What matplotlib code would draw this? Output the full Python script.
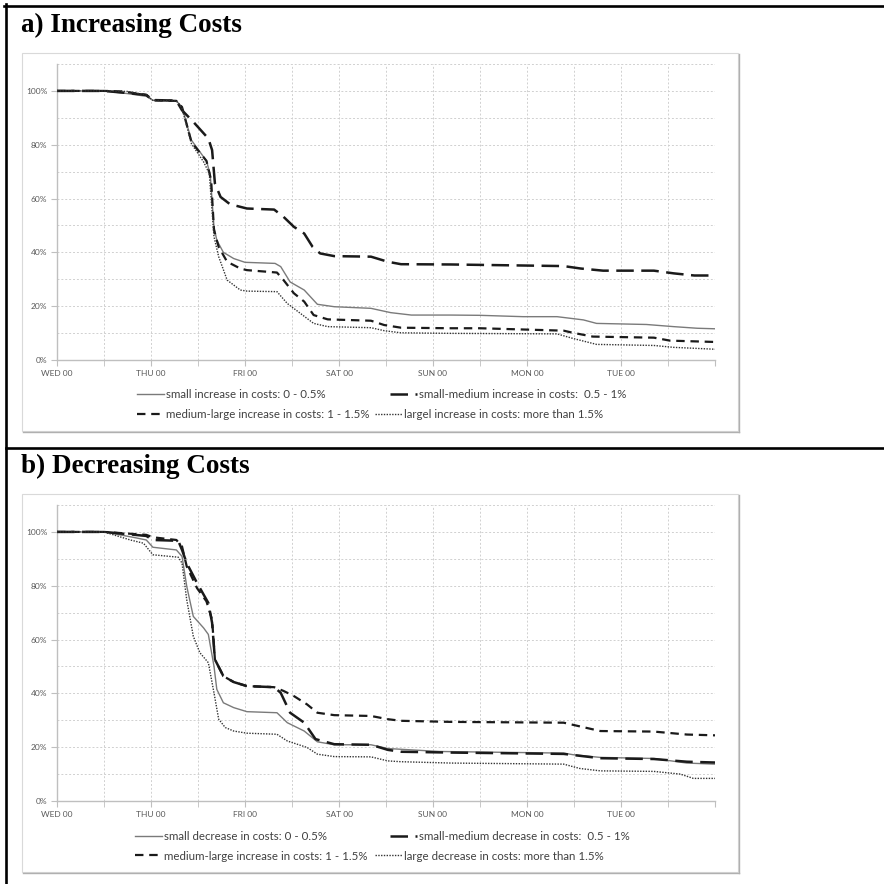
import matplotlib
matplotlib.use("Agg")
import matplotlib.pyplot as plt
import numpy as np
from matplotlib.lines import Line2D
from matplotlib.patches import Rectangle

W = H = 884

# x axis: days after WED 00
day_labels = ["WED 00", "THU 00", "FRI 00", "SAT 00", "SUN 00", "MON 00", "TUE 00", ""]

# ---- a) increasing costs ----
a_small_t = [0, 0.5, 0.75, 0.95, 1.02, 1.27, 1.33, 1.43, 1.59, 1.63, 1.67, 1.70, 1.77, 1.88, 2.00,
             2.32, 2.38, 2.48, 2.63, 2.77, 2.95, 3.34, 3.55, 3.77, 4.19, 4.50, 4.96, 5.32, 5.60,
             5.74, 6.27, 6.56, 6.81, 7.0]
a_small_v = [100, 100, 99.0, 98.0, 96.5, 96.3, 94, 81.7, 74, 69, 49.5, 44.5, 40, 37.7, 36.3,
             35.9, 34.7, 29, 26, 20.7, 19.8, 19.2, 17.6, 16.7, 16.7, 16.6, 16.1, 16.1, 14.9,
             13.6, 13.2, 12.4, 11.8, 11.6]

a_smallmed_t = [0, 0.5, 0.75, 0.95, 1.02, 1.27, 1.33, 1.45, 1.61, 1.65, 1.68, 1.74, 1.84, 2.02,
                2.31, 2.41, 2.52, 2.63, 2.72, 2.80, 2.95, 3.34, 3.52, 3.66, 4.19, 5.39, 5.57,
                5.81, 6.35, 6.56, 6.78, 7.0]
a_smallmed_v = [100, 100, 99.2, 98.5, 96.6, 96.4, 92.8, 88.5, 82.3, 78, 65.6, 60.6, 57.9, 56.3,
                55.9, 53.2, 49.5, 47, 42, 39.6, 38.6, 38.4, 36.5, 35.6, 35.5, 34.9, 34,
                33.2, 33.2, 32.2, 31.4, 31.4]

a_medlarge_t = [0, 0.5, 0.7, 0.95, 1.02, 1.27, 1.33, 1.43, 1.59, 1.64, 1.67, 1.72, 1.81, 1.95,
                2.02, 2.34, 2.41, 2.52, 2.63, 2.73, 2.88, 3.34, 3.48, 3.66, 4.19, 4.50, 5.39,
                5.49, 5.70, 6.35, 6.52, 7.0]
a_medlarge_v = [100, 100, 99.8, 98.5, 96.5, 96.3, 94, 81, 74, 66.8, 48.3, 42, 36.5, 34,
                33.4, 32.5, 29.7, 24.8, 21.7, 16.7, 15.1, 14.6, 13, 12, 11.8, 11.8, 10.9,
                10.1, 8.7, 8.3, 7.2, 6.7]

a_large_t = [0, 0.5, 0.75, 0.95, 1.02, 1.27, 1.33, 1.43, 1.56, 1.62, 1.67, 1.72, 1.81, 1.95,
             2.02, 2.34, 2.45, 2.59, 2.73, 2.88, 3.34, 3.48, 3.66, 4.19, 5.32, 5.49, 5.74,
             6.35, 6.56, 7.0]
a_large_v = [100, 100, 99.8, 98.5, 96.5, 96.3, 93.5, 80.4, 73.6, 69.3, 45.8, 38.4, 29.7, 26,
             25.6, 25.4, 21, 17.3, 13.6, 12.4, 12, 10.9, 10.1, 9.9, 9.7, 8, 5.8,
             5.4, 4.7, 4]

a_labels = ["small increase in costs: 0 - 0.5%",
            "small-medium increase in costs:  0.5 - 1%",
            "medium-large increase in costs: 1 - 1.5%",
            "largel increase in costs: more than 1.5%"]

# ---- b) decreasing costs ----
b_small_t = [0, 0.5, 0.81, 0.95, 1.02, 1.27, 1.33, 1.38, 1.45, 1.56, 1.61, 1.67, 1.70, 1.77,
             1.88, 2.02, 2.34, 2.45, 2.63, 2.77, 2.95, 3.34, 3.52, 3.77, 4.07, 5.39, 5.49,
             5.78, 6.35, 6.70, 7.0]
b_small_v = [100, 100, 98, 97, 94.3, 93.3, 90.9, 79.8, 68.6, 64.3, 61.9, 50.1, 41.5, 36.5,
             34.7, 33.2, 32.8, 29.1, 26, 22, 20.9, 20.9, 19.5, 19, 18.4, 17.8, 17.2,
             16.2, 15.8, 14.1, 13.7]

b_smallmed_t = [0, 0.5, 0.95, 1.02, 1.29, 1.33, 1.38, 1.49, 1.61, 1.65, 1.68, 1.77, 1.88, 2.02,
                2.31, 2.38, 2.48, 2.63, 2.75, 2.95, 3.34, 3.52, 3.66, 4.19, 5.39, 5.78, 6.35,
                6.70, 7.0]
b_smallmed_v = [100, 100, 98.5, 97, 96.7, 93.3, 88.4, 81, 73.6, 66.2, 52.6, 46.4, 44.2, 42.7,
                42.3, 40.2, 32.8, 29.1, 23, 21.1, 20.9, 19, 18.3, 18, 17.5, 15.9, 15.6,
                14.6, 14.3]

b_medlarge_t = [0, 0.5, 0.95, 1.02, 1.27, 1.33, 1.38, 1.49, 1.59, 1.65, 1.68, 1.77, 1.88, 2.02,
                2.31, 2.41, 2.52, 2.66, 2.77, 2.95, 3.34, 3.52, 3.66, 4.19, 5.39, 5.49, 5.78,
                6.35, 6.70, 7.0]
b_medlarge_v = [100, 100, 98.9, 98, 97, 94.6, 87.2, 79.1, 74.2, 67.4, 52.6, 46.4, 44.2, 42.7,
                42.3, 40.9, 39, 35.9, 32.8, 31.9, 31.6, 30.4, 29.8, 29.4, 29.1, 28.3, 26,
                25.8, 24.7, 24.4]

b_large_t = [0, 0.5, 0.78, 0.92, 1.02, 1.29, 1.33, 1.38, 1.45, 1.52, 1.61, 1.67, 1.72, 1.79,
             1.88, 2.02, 2.34, 2.45, 2.66, 2.77, 2.95, 3.34, 3.52, 3.66, 4.19, 5.39, 5.56,
             5.78, 6.35, 6.63, 6.77, 7.0]
b_large_v = [100, 100, 97, 95.8, 91.5, 90.6, 88.4, 74.8, 61.2, 55.1, 51.4, 40.2, 30.4, 27.3,
             26, 25.2, 24.8, 22.3, 19.9, 17.4, 16.5, 16.4, 14.9, 14.6, 14.1, 13.7, 12.1,
             11.2, 11, 10, 8.4, 8.4]

b_labels = ["small decrease in costs: 0 - 0.5%",
            "small-medium decrease in costs:  0.5 - 1%",
            "medium-large increase in costs: 1 - 1.5%",
            "large decrease in costs: more than 1.5%"]

styles = [
    dict(color="#7a7a7a", lw=1.0, ls="-"),
    dict(color="#1a1a1a", lw=1.8, ls=(0, (7, 3))),
    dict(color="#1a1a1a", lw=1.6, ls=(0, (3.8, 2.6))),
    dict(color="#333333", lw=1.0, ls=(0, (1, 1))),
]

TXT = "Lato"


def fx(px):
    return px / W


def fy(py):
    return 1 - py / H


fig = plt.figure(figsize=(W / 100, H / 100), dpi=100)
fig.patch.set_facecolor("white")


def panel(top_box, title, title_base, series, labels, leg_pos):
    # chart box (excel chart area)
    box_bottom = top_box + 378
    rect = Rectangle((fx(22), fy(box_bottom)), fx(738 - 22), (box_bottom - top_box) / H,
                     transform=fig.transFigure, fc="white", ec="#d9d9d9", lw=0.8, zorder=-2)
    fig.add_artist(rect)
    fig.add_artist(Line2D([fx(739), fx(739)], [fy(top_box + 1), fy(box_bottom + 1)],
                          transform=fig.transFigure, color="#b0b0b0", lw=1.0, zorder=-1))
    fig.add_artist(Line2D([fx(23), fx(739)], [fy(box_bottom + 1), fy(box_bottom + 1)],
                          transform=fig.transFigure, color="#b0b0b0", lw=1.0, zorder=-1))

    fig.text(fx(21), fy(title_base), title, fontsize=19.5, fontweight="bold",
             family="Liberation Serif", va="baseline", ha="left")

    y0 = top_box + 307   # 0%
    y1 = top_box + 11    # 110%
    ax = fig.add_axes([fx(57), fy(y0), fx(715 - 57), (y0 - y1) / H])
    ax.set_facecolor("none")
    lines = []
    for (t, v), st in zip(series, styles):
        ln, = ax.plot(t, v, **st, zorder=3)
        lines.append(ln)
    ax.set_xlim(0, 7)
    ax.set_ylim(0, 110)

    ax.set_xticks(np.arange(0, 8, 1))
    ax.set_xticklabels(day_labels)
    ax.set_xticks(np.arange(0.5, 7, 1), minor=True)
    ax.set_yticks(np.arange(0, 101, 20))
    ax.set_yticklabels([f"{v}%" for v in range(0, 101, 20)])
    ax.set_yticks(np.arange(10, 111, 20), minor=True)

    ax.grid(True, which="both", color="#d0d0d0", lw=0.7, ls=(0, (2, 2)))
    ax.set_axisbelow(True)
    for s in ["top", "right"]:
        ax.spines[s].set_visible(False)
    for s in ["left", "bottom"]:
        ax.spines[s].set_color("#bfbfbf")
        ax.spines[s].set_linewidth(1.0)
    ax.tick_params(axis="x", which="both", length=4, color="#bfbfbf", labelsize=6,
                   labelcolor="#595959", pad=3)
    ax.tick_params(axis="y", which="major", length=4, color="#bfbfbf", labelsize=6,
                   labelcolor="#595959", pad=3)
    ax.tick_params(axis="y", which="minor", length=0)
    for lab in ax.get_xticklabels() + ax.get_yticklabels():
        lab.set_family(TXT)

    # legend, entries placed like the excel legend
    for ln, lab, (px, py) in zip(lines, labels, leg_pos):
        fig.legend(handles=[ln], labels=[lab], loc="center left",
                   bbox_to_anchor=(fx(px), fy(py)), frameon=False, borderpad=0,
                   borderaxespad=0, handlelength=2.3, handletextpad=0.25,
                   prop=dict(family=TXT, size=8.3), labelcolor="#404040")
    return ax


panel(53, "a) Increasing Costs", 32,
      [(a_small_t, a_small_v), (a_smallmed_t, a_smallmed_v),
       (a_medlarge_t, a_medlarge_v), (a_large_t, a_large_v)],
      a_labels, [(137, 395), (390, 395), (137, 415), (375, 415)])

panel(494, "b) Decreasing Costs", 473,
      [(b_small_t, b_small_v), (b_smallmed_t, b_smallmed_v),
       (b_medlarge_t, b_medlarge_v), (b_large_t, b_large_v)],
      b_labels, [(135, 837), (390, 837), (135, 856), (375, 856)])

# table frame lines
for xs, ys in [([4, 884], [5.5, 5.5]), ([6, 6], [4, 884]), ([6, 884], [448, 448])]:
    fig.add_artist(Line2D([fx(x) for x in xs], [fy(y) for y in ys],
                          transform=fig.transFigure, color="black", lw=1.9, zorder=5))

fig.savefig("out.png", dpi=100)
